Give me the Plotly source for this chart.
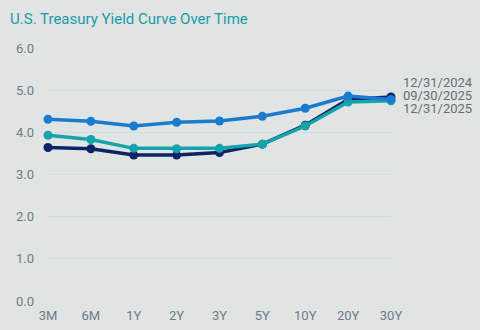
import plotly.graph_objects as go

categories = ["3M", "6M", "1Y", "2Y", "3Y", "5Y", "10Y", "20Y", "30Y"]
series_names = ["12/31/2024", "09/30/2025", "12/31/2025"]
y_2024 = [4.31, 4.26, 4.15, 4.24, 4.27, 4.38, 4.57, 4.86, 4.78]
y_2025q3 = [3.93, 3.83, 3.62, 3.61, 3.62, 3.72, 4.15, 4.72, 4.75]
y_2025q4 = [3.64, 3.61, 3.46, 3.46, 3.52, 3.72, 4.17, 4.78, 4.84]
label_y = [5.18, 4.87, 4.57]
y_ticks = [0, 1, 2, 3, 4, 5, 6]

colors = {"12/31/2024": "#1b7bd0", "09/30/2025": "#17a3ab", "12/31/2025": "#0b2466"}
data = {"12/31/2024": y_2024, "09/30/2025": y_2025q3, "12/31/2025": y_2025q4}

fig = go.Figure()
xpos = list(range(len(categories)))
for name in ["12/31/2025", "09/30/2025", "12/31/2024"]:
    fig.add_trace(go.Scatter(
        x=xpos, y=data[name], mode="lines+markers", name=name,
        line=dict(color=colors[name], width=3.5),
        marker=dict(color=colors[name], size=9),
        cliponaxis=False, showlegend=False,
    ))

for name, ly in zip(series_names, label_y):
    fig.add_annotation(x=len(categories) - 1, y=ly, xref="x", yref="y",
                       text=name, showarrow=False, xanchor="left", xshift=10,
                       font=dict(family="Roboto", size=13, color="#6b6e72"))

fig.update_layout(
    width=480, height=330,
    paper_bgcolor="#e0e4e3", plot_bgcolor="#e0e4e3",
    margin=dict(l=48, r=89, t=48, b=29),
    title=dict(text="U.S. Treasury Yield Curve Over Time", x=0.021, xanchor="left",
               y=0.942, yanchor="middle",
               font=dict(family="Roboto", size=15, color="#1b9aaa")),
    font=dict(family="Roboto", size=13, color="#6e7c88"),
)
fig.update_xaxes(range=[0, len(categories) - 1], tickvals=xpos, ticktext=categories,
                 showgrid=False, zeroline=False, showline=False, automargin=False,
                 tickfont=dict(size=13, color="#6e7c88"), ticks="", ticklabelstandoff=5)
fig.update_yaxes(range=[0, 6], tickvals=y_ticks, tickformat=".1f",
                 showgrid=True, gridcolor="#d3dce4", gridwidth=1,
                 zeroline=False, showline=False, automargin=False,
                 tickfont=dict(size=13, color="#6e7c88"), ticks="", ticklabelstandoff=13)

fig.write_html("out.html")
